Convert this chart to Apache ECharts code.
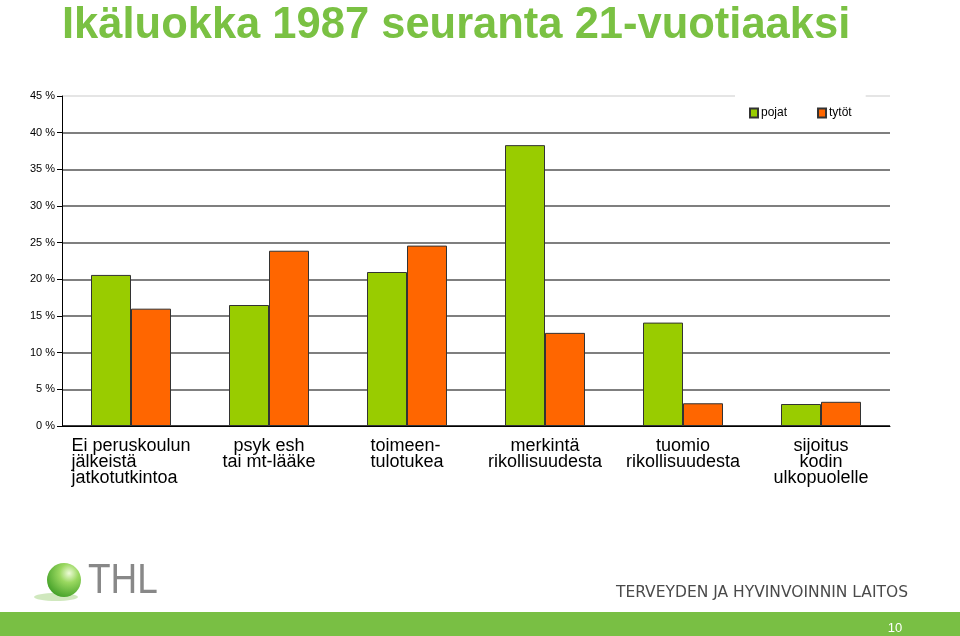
<!DOCTYPE html>
<html>
<head>
<meta charset="utf-8">
<script src="https://cdn.jsdelivr.net/npm/echarts@6/dist/echarts.min.js"></script>
<style>html,body{margin:0;padding:0;background:#fff;}#c{width:960px;height:636px;}</style>
</head>
<body>
<div id="c"></div>
<script>
const categories = [
  'Ei peruskoulun\njälkeistä\njatkotutkintoa',
  'psyk esh\ntai mt-lääke',
  'toimeen-\ntulotukea',
  'merkintä\nrikollisuudesta',
  'tuomio\nrikollisuudesta',
  'sijoitus\nkodin\nulkopuolelle'
];
const leftAligned = [true, false, true, false, false, false];
const pojat = [20.6, 16.5, 21.0, 38.3, 14.1, 3.0];
const tytot = [16.0, 23.9, 24.6, 12.7, 3.1, 3.3];
const yTicks = [0, 5, 10, 15, 20, 25, 30, 35, 40, 45];

const chart = echarts.init(document.getElementById('c'), null, {renderer: 'canvas'});
const font = 'Liberation Sans, Arial, sans-serif';
chart.setOption({
  backgroundColor: '#fff',
  animation: false,
  title: {
    text: 'Ikäluokka 1987 seuranta 21-vuotiaaksi',
    left: 57, top: -1,
    textStyle: {color: '#7ac143', fontSize: 43.5, fontWeight: 'bold', fontFamily: font}
  },
  legend: {
    data: ['pojat', 'tytöt'],
    left: 735, top: 95, width: 132,
    padding: [12, 14, 12, 14],
    backgroundColor: '#fff',
    itemWidth: 8, itemHeight: 9, itemGap: 30,
    icon: 'rect',
    textStyle: {fontSize: 12, color: '#000', fontFamily: font, padding: [0, 0, 0, -2]}
  },
  grid: {left: 62, right: 70, top: 96, bottom: 210, containLabel: false},
  xAxis: {
    type: 'category',
    data: categories,
    axisLine: {lineStyle: {color: '#000', width: 1}},
    axisTick: {show: false},
    axisLabel: {
      interval: 0, margin: 12, color: '#000', fontSize: 18, lineHeight: 16, fontFamily: font,
      formatter: function (v, i) {
        const lines = v.split('\n');
        const style = leftAligned[i] ? 'l' : 'c';
        return lines.map(s => '{' + style + '|' + s + '}').join('\n');
      },
      rich: {
        l: {align: 'left', fontSize: 18, lineHeight: 16, color: '#000', fontFamily: font},
        c: {align: 'center', fontSize: 18, lineHeight: 16, color: '#000', fontFamily: font}
      }
    }
  },
  yAxis: {
    type: 'value', min: yTicks[0], max: yTicks[yTicks.length - 1], interval: 5,
    axisLine: {show: true, lineStyle: {color: '#000', width: 1}},
    axisTick: {show: true, length: 5, lineStyle: {color: '#000'}},
    axisLabel: {formatter: '{value} %', fontSize: 11, color: '#000', fontFamily: font, margin: 7},
    splitLine: {lineStyle: {color: ['#000', '#555', '#555', '#555', '#555', '#555', '#555', '#555', '#555', '#ddd'], width: 1.5}}
  },
  series: [
    {name: 'pojat', type: 'bar', data: pojat, barWidth: 40, barGap: '0%',
      itemStyle: {color: '#99cc00', borderColor: '#333', borderWidth: 1}},
    {name: 'tytöt', type: 'bar', data: tytot, barWidth: 40, barGap: '0%',
      itemStyle: {color: '#ff6600', borderColor: '#333', borderWidth: 1}}
  ],
  graphic: [
    {type: 'rect', shape: {x: 0, y: 612, width: 960, height: 24}, style: {fill: '#79bf44'}, z: 10},
    {type: 'text', x: 895, y: 628, style: {text: '10', fill: '#fff', fontSize: 13, fontFamily: font, textAlign: 'center', textVerticalAlign: 'middle'}, z: 11},
    {type: 'text', x: 908, y: 593, style: {text: 'TERVEYDEN JA HYVINVOINNIN LAITOS', fill: '#4a4a4a', fontSize: 15.5, fontFamily: 'DejaVu Sans, sans-serif', textAlign: 'right', textVerticalAlign: 'middle'}, z: 11},
    {type: 'ellipse', shape: {cx: 56, cy: 597, rx: 22, ry: 4}, style: {fill: 'rgba(120,190,70,0.35)'}, z: 10},
    {type: 'circle', shape: {cx: 64, cy: 580, r: 17},
      style: {fill: {type: 'radial', x: 0.65, y: 0.3, r: 0.8, colorStops: [{offset: 0, color: '#eefbd8'}, {offset: 0.35, color: '#9ad860'}, {offset: 1, color: '#3a9a22'}]}}, z: 11},
    {type: 'text', x: 88, y: 581, style: {text: 'THL', fill: '#888', fontSize: 42, fontFamily: font, textVerticalAlign: 'middle'}, scaleX: 0.88, originX: 0, originY: 0, z: 11}
  ]
});
</script>
</body>
</html>
